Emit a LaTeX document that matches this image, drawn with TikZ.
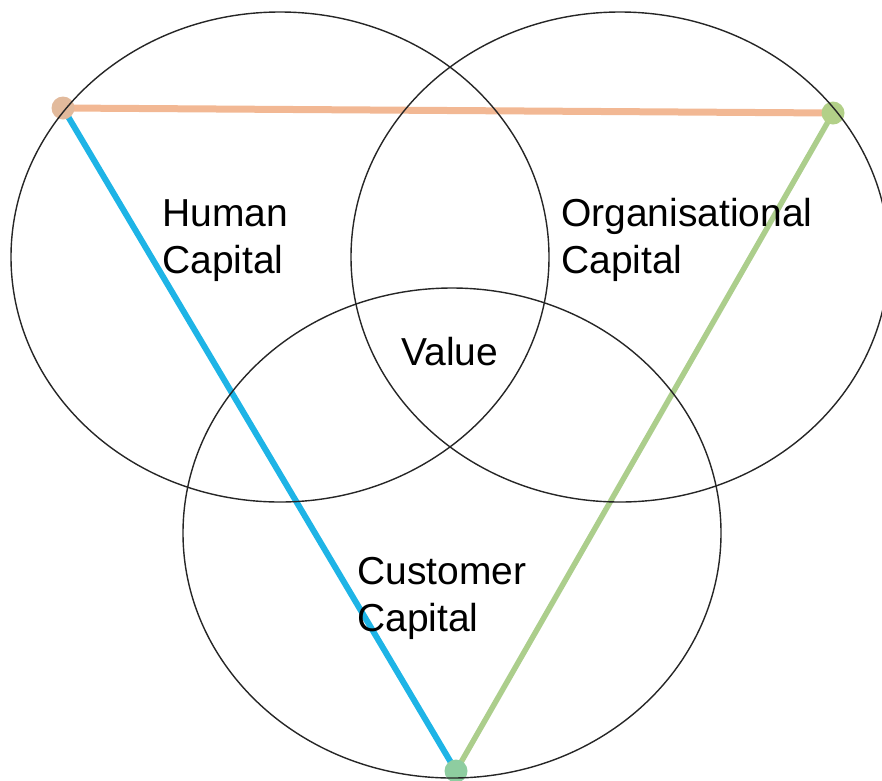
\documentclass[tikz,border=0pt]{standalone}
\usepackage{fontspec}
\setmainfont{Liberation Sans}
\usetikzlibrary{positioning}
\usetikzlibrary{shapes.geometric}
\definecolor{peach}{RGB}{242,184,148}
\definecolor{peachdot}{RGB}{226,186,156}
\definecolor{skyblue}{RGB}{30,180,230}
\definecolor{leafgreen}{RGB}{172,206,140}
\definecolor{leafdot}{RGB}{178,208,136}
\definecolor{mintgreen}{RGB}{142,205,160}
\tikzstyle{ring}=[ellipse,draw=black!85,line width=1.4pt,minimum width=538pt,minimum height=490pt,inner sep=0pt]
\tikzstyle{corner}=[circle,minimum size=23pt,inner sep=0pt]
\tikzstyle{areatext}=[anchor=base west,align=left,inner sep=0pt,font=\fontsize{39}{47}\selectfont]

\begin{document}
\begin{tikzpicture}[x=1pt,y=-1pt]
\useasboundingbox (0,0) rectangle (882,780);

%Triangle
    \coordinate (hc) at (63,108);
    \coordinate (oc) at (833,113);
    \coordinate (cc) at (456,771);
    \draw[peach, line width=7pt] (hc) -- (oc);
    \draw[skyblue, line width=6pt] (hc) -- (cc);
    \draw[leafgreen, line width=5.5pt] (oc) -- (cc);
    \foreach \name/\col in {hc/peachdot, oc/leafdot, cc/mintgreen}
        \node[corner, fill=\col] (\name dot) at (\name) {};

%Venn
    \foreach \pos/\name in {{(280,257)/human}, {(620,257)/organ}, {(452,533)/customer}}
        \node[ring] (\name) at \pos {};

%Texts (base = last line)
\node[areatext] (humantext) at (162,273) {Human\\Capital};
\node[areatext] (organtext) at (561,273) {Organisational\\Capital};
\node[areatext] (valuetext) at (401,365) {Value};
\node[areatext] (customertext) at (357,631) {Customer\\Capital};

\end{tikzpicture}
\end{document}
